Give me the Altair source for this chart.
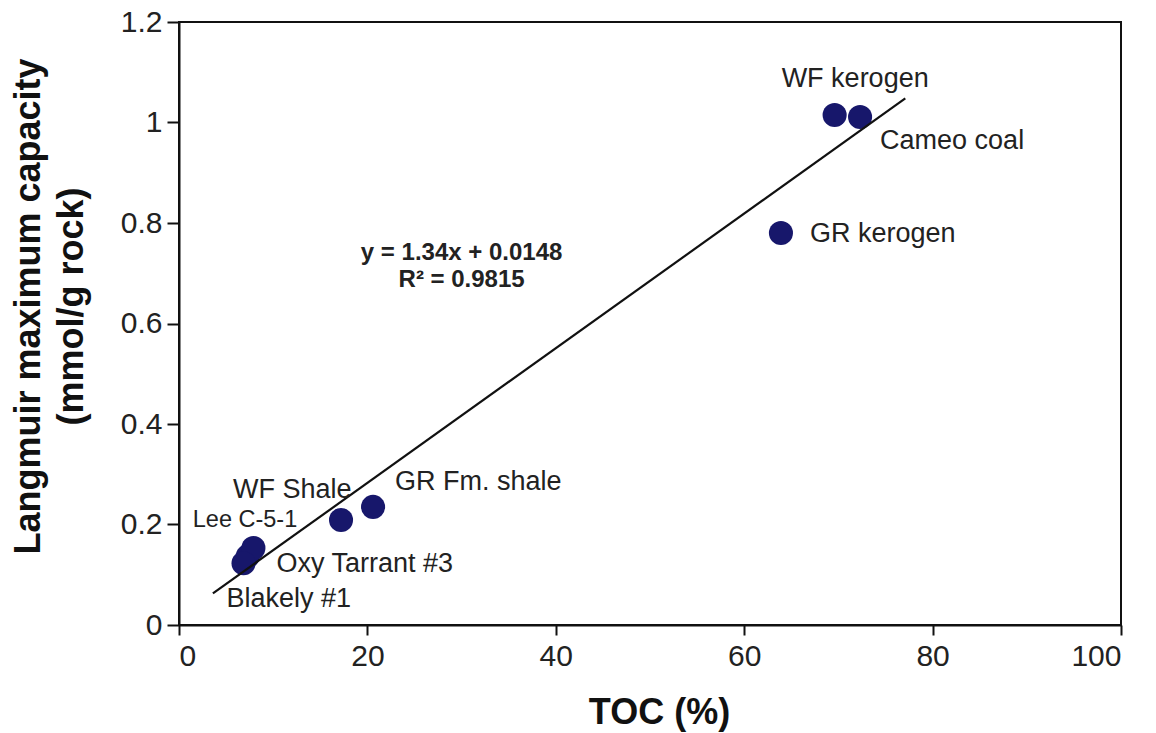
import altair as alt
import pandas as pd

# ---- data ----
names = ["WF kerogen", "Cameo coal", "GR kerogen", "GR Fm. shale",
         "WF Shale", "Lee C-5-1", "Oxy Tarrant #3", "Blakely #1"]
toc = [69.6, 72.3, 63.9, 20.6, 17.2, 7.3, 7.9, 6.85]
capacity = [1.015, 1.011, 0.780, 0.235, 0.209, 0.137, 0.153, 0.123]

# trendline end points (y = 1.34x + 0.0148)
fit_toc = [3.6, 77.1]
fit_cap = [0.063, 1.048]

x_ticks = [0, 20, 40, 60, 80, 100]
y_ticks = [0, 0.2, 0.4, 0.6, 0.8, 1.0, 1.2]

eq_lines = ["y = 1.34x + 0.0148", "R\u00b2 = 0.9815"]
eq_toc = [30.0]
eq_cap = [0.726]

# label offsets in pixels (dx, dy) and font sizes
label_style = {
    "WF kerogen": (-53, -28, 27),
    "Cameo coal": (20, 32, 27),
    "GR kerogen": (29, 9, 27),
    "GR Fm. shale": (22, -17, 27),
    "WF Shale": (-108, -22, 27),
    "Lee C-5-1": (-55, -29, 23.5),
    "Oxy Tarrant #3": (23, 24, 27),
    "Blakely #1": (-17, 44, 27),
}

FONT = "Liberation Sans"

pts = pd.DataFrame({"name": names, "toc": toc, "cap": capacity})
fit = pd.DataFrame({"toc": fit_toc, "cap": fit_cap})
eq = pd.DataFrame({"toc": eq_toc, "cap": eq_cap})

x_scale = alt.Scale(domain=[0, 100], nice=False, zero=False)
y_scale = alt.Scale(domain=[0, 1.2], nice=False, zero=False)

x_axis = alt.Axis(values=x_ticks, title="TOC (%)", grid=False,
                  domainColor="#111", domainWidth=2, tickColor="#111",
                  tickWidth=2, tickSize=10, labelPadding=6,
                  labelFont=FONT, labelFontSize=30, labelColor="#222",
                  titleFont=FONT, titleFontSize=36, titleFontWeight="bold",
                  titleColor="#111", titleX=480, titleY=98,
                  titleBaseline="alphabetic", titleAlign="center")
y_axis = alt.Axis(values=y_ticks, title=["Langmuir maximum capacity", "(mmol/g rock)"],
                  grid=False, labelExpr="format(datum.value, '~g')",
                  domainColor="#111", domainWidth=2, tickColor="#111",
                  tickWidth=2, tickSize=12, labelPadding=5,
                  labelFont=FONT, labelFontSize=30, labelColor="#222",
                  titleFont=FONT, titleFontSize=36, titleFontWeight="bold",
                  titleColor="#111", titleAngle=270, titleX=-140, titleY=284,
                  titleBaseline="alphabetic", titleAlign="center",
                  titleLineHeight=43)

points = alt.Chart(pts).mark_circle(size=580, color="#17176b", opacity=1).encode(
    x=alt.X("toc:Q", scale=x_scale, axis=x_axis),
    y=alt.Y("cap:Q", scale=y_scale, axis=y_axis),
)

line = alt.Chart(fit).mark_line(color="#111", strokeWidth=2.2).encode(
    x=alt.X("toc:Q", scale=x_scale),
    y=alt.Y("cap:Q", scale=y_scale),
)

layers = [points, line]
for n in names:
    dx, dy, fs = label_style[n]
    layers.append(
        alt.Chart(pts[pts["name"] == n]).mark_text(
            align="left", baseline="alphabetic", dx=dx, dy=dy,
            font=FONT, fontSize=fs, color="#222"
        ).encode(
            x=alt.X("toc:Q", scale=x_scale),
            y=alt.Y("cap:Q", scale=y_scale),
            text="name:N",
        )
    )

layers.append(
    alt.Chart(eq).mark_text(
        text=eq_lines, align="center", baseline="alphabetic",
        font=FONT, fontSize=24, fontWeight="bold", color="#222", lineHeight=27
    ).encode(
        x=alt.X("toc:Q", scale=x_scale),
        y=alt.Y("cap:Q", scale=y_scale),
    )
)

chart = alt.layer(*layers).properties(
    width=942, height=603,
    autosize=alt.AutoSizeParams(type="none"),
    padding={"left": 179, "top": 22, "right": 35, "bottom": 108},
    background="white",
).configure_view(stroke="#111", strokeWidth=2)

chart.save("out.html", embed_options={"renderer": "svg", "actions": False})
